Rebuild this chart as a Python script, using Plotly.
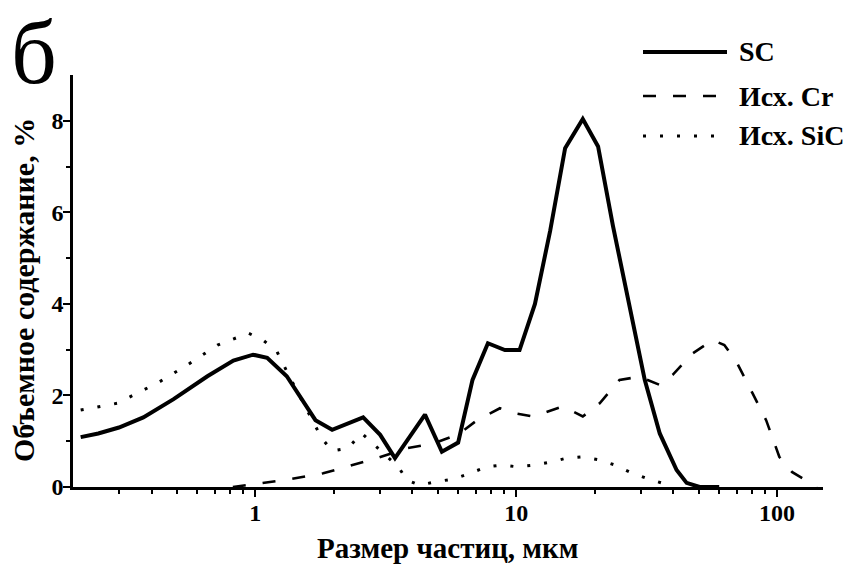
import plotly.graph_objects as go

# Particle size distributions (size in µm, volume fraction in %)
sc_size = [0.214, 0.25, 0.30, 0.372, 0.486, 0.655, 0.824, 0.98, 1.11, 1.32, 1.70, 1.97,
           2.59, 3.01, 3.43, 4.47, 5.19, 5.99, 6.8, 7.79, 9.05, 10.3, 11.8, 13.5, 15.4,
           18.0, 20.6, 23.5, 31.1, 35.5, 41.2, 45.0, 50.5, 60.0]
sc_vol = [1.09, 1.17, 1.30, 1.52, 1.92, 2.42, 2.76, 2.89, 2.82, 2.42, 1.46, 1.25,
          1.52, 1.14, 0.63, 1.58, 0.77, 0.97, 2.34, 3.14, 2.99, 2.99, 4.0, 5.6, 7.4,
          8.04, 7.44, 5.7, 2.34, 1.17, 0.37, 0.09, 0.0, 0.0]

cr_size = [0.82, 1.06, 1.36, 1.82, 2.31, 2.93, 3.82, 4.8, 6.0, 7.08, 8.66, 9.9, 11.6,
           15.1, 18.0, 20.9, 24.9, 29.7, 35.5, 39.8, 47.5, 56.7, 62.8, 69.8, 80.5,
           90.8, 102, 114, 142]
cr_vol = [0.0, 0.08, 0.17, 0.30, 0.46, 0.63, 0.85, 0.95, 1.15, 1.46, 1.72, 1.61, 1.54,
          1.76, 1.54, 1.83, 2.34, 2.41, 2.23, 2.45, 2.92, 3.21, 3.10, 2.74, 2.05,
          1.46, 0.66, 0.33, 0.0]

sic_size = [0.214, 0.296, 0.43, 0.55, 0.716, 0.94, 1.07, 1.21, 1.36, 1.67, 1.80, 1.97,
            2.27, 2.55, 3.53, 3.82, 4.27, 4.96, 5.73, 6.65, 7.7, 8.83, 10.1, 11.8,
            13.7, 15.6, 18.0, 20.9, 23.9, 27.2, 31.6, 36.5, 40.0]
sic_vol = [1.68, 1.83, 2.30, 2.67, 3.10, 3.36, 3.21, 2.96, 2.38, 1.39, 1.06, 0.79,
           0.85, 1.18, 0.44, 0.15, 0.04, 0.12, 0.17, 0.30, 0.44, 0.48, 0.44, 0.48,
           0.55, 0.63, 0.66, 0.59, 0.48, 0.33, 0.19, 0.08, 0.0]

series_names = ["SC", "Исх. Cr", "Исх. SiC"]
x_ticks = [1, 10, 100]
x_minor = [0.3, 0.4, 0.5, 0.6, 0.7, 0.8, 0.9, 2, 3, 4, 5, 6, 7, 8, 9,
           20, 30, 40, 50, 60, 70, 80, 90]
y_ticks = [0, 2, 4, 6, 8]
y_minor = [1, 3, 5, 7]

FONT = "Liberation Serif"
styles = [
    dict(color="black", width=4, dash="solid"),
    dict(color="black", width=2.6, dash="13px,17px"),
    dict(color="black", width=3, dash="3px,14px"),
]

fig = go.Figure()
for name, xs, ys, st in zip(series_names, [sc_size, cr_size, sic_size],
                            [sc_vol, cr_vol, sic_vol], styles):
    fig.add_trace(go.Scatter(x=xs, y=ys, mode="lines", name=name, line=st,
                             showlegend=False))

# Hand-drawn legend in the upper right corner
leg_y = [1.056, 0.949, 0.852]
for name, st, yy in zip(series_names, styles, leg_y):
    fig.add_shape(type="line", xref="paper", yref="paper", x0=0.76, x1=0.872,
                  y0=yy, y1=yy, line=st)
    fig.add_annotation(xref="paper", yref="paper", x=0.885, y=yy, text=f"<b>{name}</b>",
                       showarrow=False, xanchor="left", yanchor="middle",
                       font=dict(family=FONT, size=28, color="black"))

# Panel letter
fig.add_annotation(xref="paper", yref="paper", x=-0.086, y=1.1796, text="б",
                   showarrow=False, xanchor="left", yanchor="top",
                   font=dict(family=FONT, size=90, color="black"))

# Axis titles
fig.add_annotation(xref="paper", yref="paper", x=0.5, y=-0.148,
                   text="<b>Размер частиц, мкм</b>", showarrow=False,
                   xanchor="center", yanchor="middle",
                   font=dict(family=FONT, size=29, color="black"))
fig.add_annotation(xref="paper", yref="paper", x=-0.0667, y=0.478,
                   text="<b>Объемное содержание, %</b>", showarrow=False,
                   textangle=-90, xanchor="center", yanchor="middle",
                   font=dict(family=FONT, size=30, color="black"))

axis_common = dict(showline=True, linecolor="black", linewidth=2.6, ticks="outside",
                   ticklen=7, tickwidth=2.2, tickcolor="black", showgrid=False,
                   zeroline=False, mirror=False, automargin=False,
                   tickfont=dict(family=FONT, size=24, color="black"))

fig.update_xaxes(type="log", range=[-0.69897, 2.17609], tickvals=x_ticks,
                 ticktext=[f"<b>{v}</b>" for v in x_ticks], ticklabelstandoff=-5,
                 minor=dict(tickvals=x_minor, ticks="outside", ticklen=4, tickwidth=2,
                            tickcolor="black"),
                 **axis_common)
fig.update_yaxes(range=[0, 9], tickvals=y_ticks,
                 ticktext=[f"<b>{v}</b>" for v in y_ticks], ticklabelstandoff=-5,
                 minor=dict(tickvals=y_minor, ticks="outside", ticklen=4, tickwidth=2,
                            tickcolor="black"),
                 **axis_common)

fig.update_layout(width=851, height=564, margin=dict(l=73, r=28, t=75, b=77),
                  paper_bgcolor="white", plot_bgcolor="white",
                  font=dict(family=FONT, color="black"))

fig.write_html("out.html")
